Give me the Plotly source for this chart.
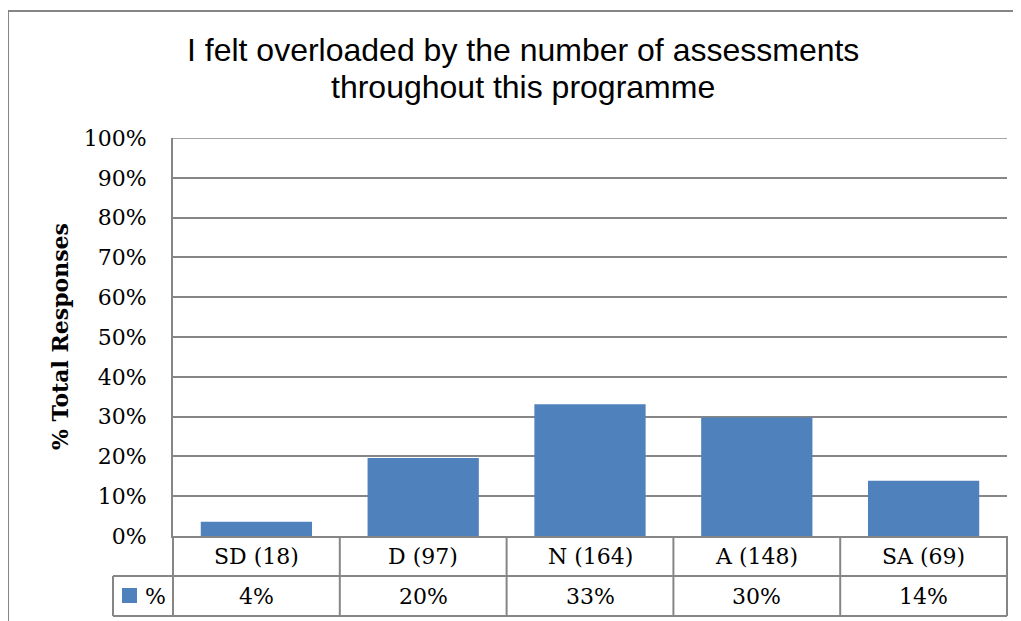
"""Survey chart: assessment overload responses, Excel-style with data table."""

import plotly.graph_objects as go

# ── data ─────────────────────────────────────────────────────────────

categories = ["SD (18)", "D (97)", "N (164)", "A (148)", "SA (69)"]
pct_responses = [3.6, 19.6, 33.1, 29.8, 13.9]
series_name = "%"
title_lines = ["I felt overloaded by the number of assessments", "throughout this programme"]
y_title = "% Total Responses"
y_max = 100

# ── style ────────────────────────────────────────────────────────────

BAR = "#4f81bd"
GRID = "#868686"
SERIF = "DejaVu Serif"
SANS = "Liberation Sans"
BODY = 8  # default page margin the browser puts round the figure

# plot-area geometry in page pixels, used to place table lines in paper coords
L, R, T, B = 173, 1007, 138, 536
W, H = R - L, B - T


def px(x):
    return (x - L) / W


def py(y):
    return (B - y) / H


def text_font(size=22):
    return {"family": SERIF, "size": size, "color": "black"}


# ── chart ────────────────────────────────────────────────────────────

fig = go.Figure(
    go.Bar(
        x=categories,
        y=pct_responses,
        name=series_name,
        marker={"color": BAR, "line": {"width": 0}},
        showlegend=False,
    )
)

line = {"color": GRID, "width": 2}


def rule(x0, x1, y0, y1):
    return dict(type="line", xref="paper", yref="paper",
                x0=x0, x1=x1, y0=y0, y1=y1, line=line)


shapes = [
    # outer chart frame (only top and left show in the crop)
    rule(px(8), px(1021), py(11), py(11)),
    rule(px(8), px(8), py(11), py(621)),
    # top gridline at the range edge
    dict(type="line", xref="paper", yref="y", x0=0, x1=1, y0=y_max, y1=y_max,
         line={"color": GRID, "width": 1.5}),
]
# data table
row1, row2 = py(576), py(616)
shapes += [
    rule(px(113), 1, row1, row1),
    rule(px(113), 1, row2, row2),
    rule(px(113), px(113), row1, row2),
]
n = len(categories)
for k in range(n + 1):
    shapes.append(rule(k / n, k / n, 0, row2))
# legend key swatch
shapes.append(dict(type="rect", xref="paper", yref="paper",
                   x0=px(122), x1=px(137), y0=py(603), y1=py(588),
                   fillcolor=BAR, line={"width": 0}))

annotations = []
for cat, v in zip(categories, pct_responses):
    annotations.append(dict(x=cat, y=py(556), xref="x", yref="paper",
                            xanchor="center", yanchor="middle",
                            text=cat, showarrow=False, font=text_font()))
    annotations.append(dict(x=cat, y=py(596), xref="x", yref="paper",
                            xanchor="center", yanchor="middle",
                            text=f"{v:.0f}%", showarrow=False, font=text_font()))
annotations.append(dict(x=px(155), y=py(596), xref="paper", yref="paper",
                        xanchor="center", yanchor="middle",
                        text=series_name, showarrow=False, font=text_font()))
annotations.append(dict(x=px(60), y=0.5, xref="paper", yref="paper",
                        xanchor="center", yanchor="middle",
                        text=f"<b>{y_title}</b>", textangle=-90,
                        showarrow=False, font=text_font()))
for line_text, y_mid in zip(title_lines, [50, 87]):
    annotations.append(dict(x=px(523), y=py(y_mid), xref="paper", yref="paper",
                            xanchor="center", yanchor="middle",
                            text=line_text, showarrow=False,
                            font={"family": SANS, "size": 32, "color": "black"}))

fig.update_layout(
    width=1021 - BODY,
    height=621 - BODY,
    margin={"l": L - BODY, "r": 1021 - R, "t": T - BODY, "b": 621 - B, "pad": 0},
    paper_bgcolor="white",
    plot_bgcolor="white",
    bargap=0.333,
    xaxis={
        "type": "category",
        "range": [-0.5, n - 0.5],
        "showticklabels": False,
        "showgrid": False,
        "showline": True,
        "linecolor": GRID,
        "linewidth": 2,
        "fixedrange": True,
    },
    yaxis={
        "range": [0, y_max],
        "dtick": 10,
        "ticksuffix": "%",
        "showgrid": True,
        "gridcolor": GRID,
        "gridwidth": 1.5,
        "showline": True,
        "linecolor": GRID,
        "linewidth": 2,
        "zeroline": False,
        "ticks": "",
        "ticklabelstandoff": 20,
        "tickfont": text_font(),
        "fixedrange": True,
    },
    shapes=shapes,
    annotations=annotations,
)

fig.write_html("out.html")
